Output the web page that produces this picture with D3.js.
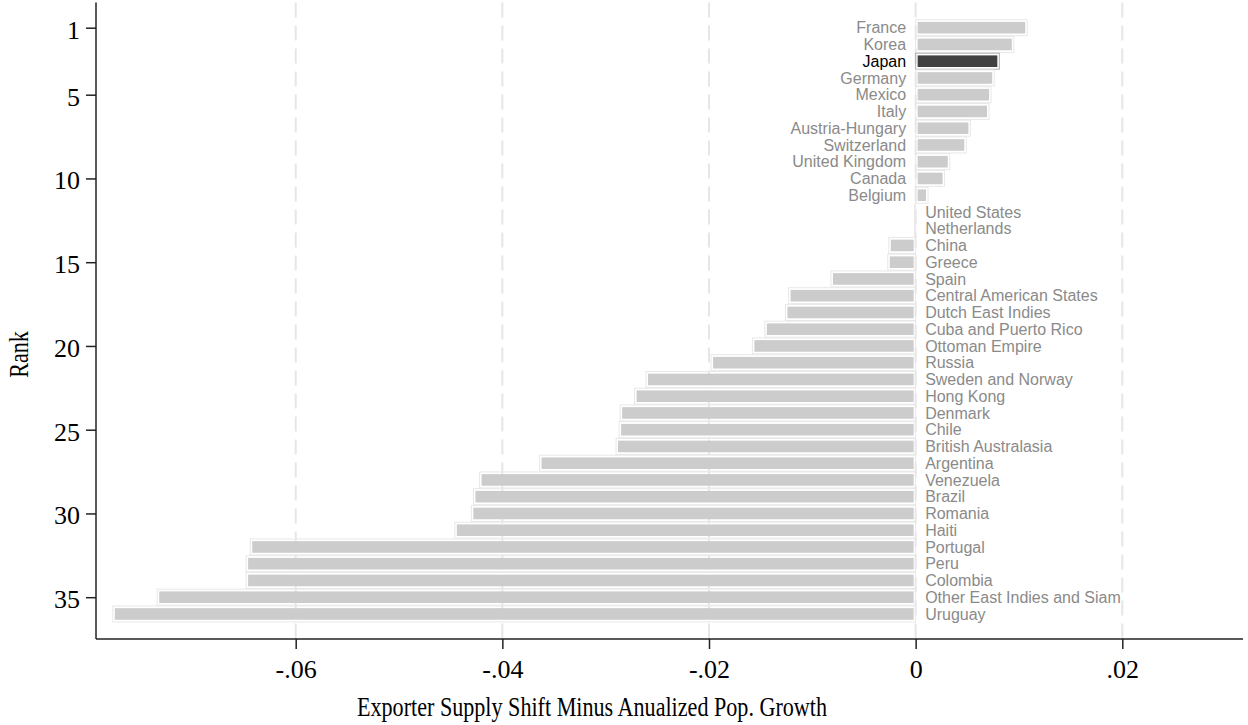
<!DOCTYPE html>
<html><head><meta charset="utf-8">
<script src="https://cdn.jsdelivr.net/npm/d3@7"></script>
<style>body{margin:0;background:#fff}svg{display:block}</style>
</head><body>
<svg id="c" width="1248" height="725"></svg>
<script>
const countries = ["France","Korea","Japan","Germany","Mexico","Italy","Austria-Hungary","Switzerland","United Kingdom","Canada","Belgium","United States","Netherlands","China","Greece","Spain","Central American States","Dutch East Indies","Cuba and Puerto Rico","Ottoman Empire","Russia","Sweden and Norway","Hong Kong","Denmark","Chile","British Australasia","Argentina","Venezuela","Brazil","Romania","Haiti","Portugal","Peru","Colombia","Other East Indies and Siam","Uruguay"];
const values = [0.0108,0.0095,0.0081,0.0076,0.0073,0.0071,0.0053,0.0049,0.0033,0.0028,0.0012,-0.0001,-0.0001,-0.0026,-0.0027,-0.0082,-0.0123,-0.0126,-0.0146,-0.0158,-0.0198,-0.0261,-0.0272,-0.0286,-0.0287,-0.0290,-0.0364,-0.0422,-0.0428,-0.0430,-0.0446,-0.0644,-0.0648,-0.0648,-0.0734,-0.0777];
const highlight = "Japan";
const xTicks = [-0.06,-0.04,-0.02,0,0.02];
const xTickLabels = ["-.06","-.04","-.02","0",".02"];
const yTicks = [1,5,10,15,20,25,30,35];
const xTitle = "Exporter Supply Shift Minus Anualized Pop. Growth";
const yTitle = "Rank";

const svg = d3.select("#c");
const x = d3.scaleLinear().domain([-0.06,0.02]).range([295.7,1122.3]);
const y = d3.scaleLinear().domain([1,35]).range([27.7,597.2]);
const pLeft = 96, pRight = 1243, pTop = 2.5, pBottom = 639;
const serif = "Liberation Serif, Times New Roman, serif";

// gridlines
svg.append("g").selectAll("line").data(xTicks).join("line")
  .attr("x1",d=>x(d)).attr("x2",d=>x(d)).attr("y1",pTop).attr("y2",pBottom)
  .attr("stroke","#e6e6e6").attr("stroke-width",2).attr("stroke-dasharray","15,8");

const data = countries.map((c,i)=>({c, v:values[i], r:i+1}));
const g = svg.append("g");
// outlines
g.selectAll("rect.o").data(data).join("rect").attr("class","o")
  .attr("x",d=>Math.min(x(d.v),x(0))).attr("width",d=>Math.abs(x(d.v)-x(0)))
  .attr("y",d=>y(d.r)-8).attr("height",16)
  .attr("fill","none").attr("stroke",d=>d.c===highlight?"#b0b0b0":"#e8e8e8").attr("stroke-width",1);
// fills
g.selectAll("rect.f").data(data).join("rect").attr("class","f")
  .attr("x",d=>Math.min(x(d.v),x(0))+2).attr("width",d=>Math.max(0,Math.abs(x(d.v)-x(0))-4))
  .attr("y",d=>y(d.r)-5.8).attr("height",11.6)
  .attr("fill",d=>d.c===highlight?"#404040":"#cccccc");
// labels
g.selectAll("text").data(data).join("text")
  .attr("x",d=>d.v>0?x(0)-9.5:x(0)+9.5)
  .attr("y",d=>y(d.r)).attr("dy","0.36em")
  .attr("text-anchor",d=>d.v>0?"end":"start")
  .attr("font-family","Liberation Sans, Arial, sans-serif").attr("font-size","16px")
  .attr("fill",d=>d.c===highlight?"#000":"#8a8a8a")
  .text(d=>d.c);

// axes
const xa = svg.append("g").attr("transform",`translate(0,${pBottom})`)
  .call(d3.axisBottom(x).tickValues(xTicks).tickFormat((d,i)=>xTickLabels[i]).tickSize(10).tickSizeOuter(0));
xa.select(".domain").remove();
xa.selectAll("line").attr("stroke","#222").attr("stroke-width",1.5);
xa.selectAll("text").attr("font-family",serif).attr("font-size","26px").attr("fill","#000").attr("dy","0").attr("y",39);
svg.append("line").attr("x1",pLeft).attr("x2",pRight).attr("y1",pBottom).attr("y2",pBottom).attr("stroke","#222").attr("stroke-width",1.5);

const ya = svg.append("g").attr("transform",`translate(${pLeft},0)`)
  .call(d3.axisLeft(y).tickValues(yTicks).tickFormat(d3.format("d")).tickSize(10).tickSizeOuter(0));
ya.select(".domain").remove();
ya.selectAll("line").attr("stroke","#222").attr("stroke-width",1.5);
ya.selectAll("text").attr("font-family",serif).attr("font-size","26px").attr("fill","#000").attr("x",-16).attr("dy","0.4em");
svg.append("line").attr("x1",pLeft).attr("x2",pLeft).attr("y1",pTop).attr("y2",pBottom).attr("stroke","#222").attr("stroke-width",1.5);

svg.append("text").attr("transform","translate(592,716) scale(0.82,1)").attr("text-anchor","middle")
  .attr("font-family",serif).attr("font-size","27px").text(xTitle);
svg.append("text").attr("transform","translate(28.3,354.5) rotate(-90) scale(0.82,1)").attr("text-anchor","middle")
  .attr("font-family",serif).attr("font-size","27px").text(yTitle);
</script>
</body></html>
